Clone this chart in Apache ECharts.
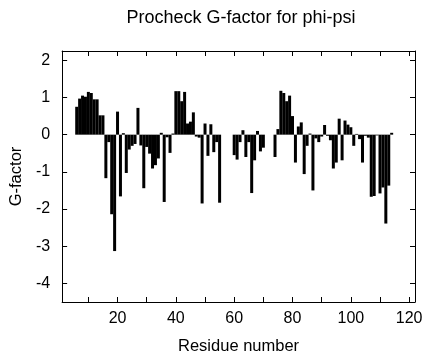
<!DOCTYPE html>
<html><head><meta charset="utf-8">
<script src="https://cdn.jsdelivr.net/npm/echarts@6/dist/echarts.min.js"></script>
<style>html,body{margin:0;padding:0;background:#fff}#c{width:431px;height:360px}</style>
</head><body><div id="c"></div>
<script>
const residues = [6,7,8,9,10,11,12,13,14,15,16,17,18,19,20,21,22,23,24,25,26,27,28,29,30,31,32,33,34,35,36,37,38,39,40,41,42,43,44,45,46,47,48,49,50,51,52,53,54,55,
  60,61,62,63,64,65,66,67,68,69,70,
  74,75,76,77,78,79,80,81,82,83,84,85,86,87,88,89,90,91,92,93,94,95,96,97,98,99,100,101,102,103,104,105,106,107,108,109,110,111,112,113,114];
const gFactor = [0.75,0.97,1.05,1.02,1.15,1.12,0.95,0.95,0.52,0.52,-1.17,-0.2,-2.14,-3.13,0.62,-1.66,0.04,-1.03,-0.4,-0.3,-0.25,0.72,-0.29,-1.44,-0.33,-0.51,-0.91,-0.82,-0.64,0.05,-1.81,-0.07,-0.49,0.03,1.17,1.17,0.9,1.15,0.3,0.35,0.6,-0.05,-0.08,-1.85,0.3,-0.57,0.28,-0.47,-0.2,-1.83,
  -0.55,-0.67,-0.2,0.12,-0.6,-0.2,-1.57,-0.69,0.1,-0.45,-0.35,
  -0.6,0.15,1.18,1.12,0.9,1.05,0.5,-0.75,0.22,0.33,-1.06,-0.3,0.03,-1.5,-0.1,-0.2,-0.05,0.26,-0.03,-0.15,-0.91,-0.75,0.43,-0.69,0.38,0.27,0.2,-0.3,0.02,-0.12,-0.75,-0.03,-0.08,-1.67,-1.65,-0.02,-1.58,-1.42,-2.39,-1.37,0.05];
const xTicks = [10,20,30,40,50,60,70,80,90,100,110,120];
const xLabels = [20,40,60,80,100,120];
const yTicks = [-4,-3,-2,-1,0,1,2];

const FONT = 'Liberation Sans';
const black = '#000';
const chart = echarts.init(document.getElementById('c'), null, {renderer:'canvas'});
const xBase = {
  type:'value', min:1, max:122,
  splitLine:{show:false},
  axisLine:{show:true, onZero:false, lineStyle:{color:black, width:1}},
  axisTick:{show:true, inside:true, length:5, customValues:xTicks, lineStyle:{color:black}}
};
const yBase = {
  type:'value', min:-4.5, max:2.25,
  splitLine:{show:false},
  axisLine:{show:true, onZero:false, lineStyle:{color:black, width:1}},
  axisTick:{show:true, inside:true, length:5, customValues:yTicks, lineStyle:{color:black}}
};
chart.setOption({
  animation:false,
  backgroundColor:'#fff',
  title:{text:'Procheck G-factor for phi-psi', left:236, top:4, textAlign:'center',
    textStyle:{fontFamily:FONT, fontSize:18, fontWeight:'normal', color:black}},
  grid:{left:62, right:16, top:51, bottom:54},
  xAxis:[
    Object.assign({}, xBase, {position:'bottom',
      axisLabel:{customValues:xLabels, color:black, fontSize:16, fontFamily:FONT, margin:9},
      name:'Residue number', nameLocation:'middle', nameGap:36,
      nameTextStyle:{fontFamily:FONT, fontSize:16.5, color:black}}),
    Object.assign({}, xBase, {position:'top', axisLabel:{show:false}})
  ],
  yAxis:[
    Object.assign({}, yBase, {position:'left',
      axisLabel:{customValues:yTicks, color:black, fontSize:16, fontFamily:FONT, margin:12},
      name:'G-factor', nameLocation:'middle', nameGap:37, nameRotate:90,
      nameTextStyle:{fontFamily:FONT, fontSize:16.5, color:black}}),
    Object.assign({}, yBase, {position:'right', axisLabel:{show:false}})
  ],
  series:[{
    type:'bar', xAxisIndex:0, yAxisIndex:0,
    data: residues.map((r,i)=>[r, gFactor[i]]),
    barWidth:3,
    itemStyle:{color:black}
  }]
});
</script></body></html>
